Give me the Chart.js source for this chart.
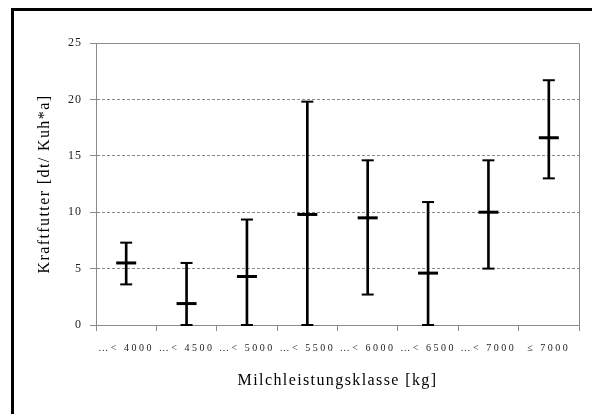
<!DOCTYPE html>
<html>
<head>
<meta charset="utf-8">
<script src="https://cdn.jsdelivr.net/npm/chart.js@4/dist/chart.umd.min.js"></script>
<style>
  html, body { margin: 0; padding: 0; background: #ffffff; overflow: hidden; }
  #frame {
    position: absolute; left: 11px; top: 8px;
    width: 700px; height: 600px;
    border: 3px solid #000000;
  }
  #wrap { position: absolute; left: 0; top: 0; width: 592px; height: 414px; }
</style>
</head>
<body>
<div id="frame"></div>
<div id="wrap"><canvas id="errChart"></canvas></div>
<script>
// Milchleistungsklassen und Kraftfutter (Mittelwert, Min, Max)
const categories = ["…< 4000", "…< 4500", "…< 5000", "…< 5500", "…< 6000", "…< 6500", "…< 7000", "≤ 7000"];
const meanValues = [5.5, 1.9, 4.3, 9.8, 9.5, 4.6, 10.0, 16.6];
const minValues = [3.6, 0, 0, 0, 2.7, 0, 5.0, 13.0];
const maxValues = [7.3, 5.5, 9.35, 19.8, 14.6, 10.9, 14.6, 21.7];
const yTicks = [0, 5, 10, 15, 20, 25];

const axisGray = "#8a8a8a";
const textColor = "#222222";

// Spannweite als schwebender Balken [min, max]
const rangeData = minValues.map((v, i) => [v, maxValues[i]]);

// Buchstabenabstand pro Achse setzen
function setSpacing(scale, tickSp, titleSp) {
  if (!scale || scale._spaced) return;
  scale._spaced = true;
  const drawLabels = scale.drawLabels;
  const drawTitle = scale.drawTitle;
  scale.drawLabels = function (area) {
    this.ctx.letterSpacing = tickSp;
    drawLabels.call(this, area);
    this.ctx.letterSpacing = "0px";
  };
  scale.drawTitle = function () {
    this.ctx.letterSpacing = titleSp;
    drawTitle.call(this);
    this.ctx.letterSpacing = "0px";
  };
}

const spacingPlugin = {
  id: "spacing",
  afterLayout(chart) {
    setSpacing(chart.scales.x, "2.5px", "1.4px");
    setSpacing(chart.scales.y, "1px", "1.4px");
  }
};

// grauer Rahmen um die Zeichenfläche
const plotFrame = {
  id: "plotFrame",
  beforeDatasetsDraw(chart) {
    const { ctx, chartArea } = chart;
    ctx.save();
    ctx.strokeStyle = axisGray;
    ctx.lineWidth = 1;
    ctx.beginPath();
    ctx.moveTo(chartArea.left, chartArea.top + 0.5);
    ctx.lineTo(chartArea.right + 0.5, chartArea.top + 0.5);
    ctx.lineTo(chartArea.right + 0.5, chartArea.bottom);
    ctx.stroke();
    ctx.restore();
  }
};

const ctx = document.getElementById("errChart").getContext("2d");

new Chart(ctx, {
  type: "bar",
  data: {
    labels: categories,
    datasets: [
      {
        label: "Mittelwert",
        type: "line",
        data: meanValues,
        showLine: false,
        pointStyle: "line",
        pointRadius: 10,
        pointBorderWidth: 3,
        pointBorderColor: "#000000",
        clip: false
      },
      {
        label: "Max",
        type: "line",
        data: maxValues,
        showLine: false,
        pointStyle: "line",
        pointRadius: 6,
        pointBorderWidth: 2,
        pointBorderColor: "#000000",
        clip: false
      },
      {
        label: "Min",
        type: "line",
        data: minValues,
        showLine: false,
        pointStyle: "line",
        pointRadius: 6,
        pointBorderWidth: 2,
        pointBorderColor: "#000000",
        clip: false
      },
      {
        label: "Spannweite",
        data: rangeData,
        barThickness: 2,
        backgroundColor: "#000000",
        borderWidth: 0
      }
    ]
  },
  options: {
    responsive: true,
    maintainAspectRatio: false,
    animation: false,
    layout: {
      padding: { top: 43, right: 8, left: 0, bottom: 0 }
    },
    plugins: {
      legend: { display: false },
      tooltip: { enabled: false }
    },
    scales: {
      x: {
        afterFit: (s) => { s.height = 89; },
        grid: {
          offset: true,
          drawOnChartArea: false,
          drawTicks: true,
          tickLength: 6,
          tickColor: axisGray
        },
        border: { display: true, color: axisGray, width: 1 },
        ticks: {
          color: textColor,
          padding: 11,
          maxRotation: 0,
          autoSkip: false,
          font: { family: "'Liberation Serif'", size: 10 }
        },
        title: {
          display: true,
          text: "Milchleistungsklasse [kg]",
          color: "#000000",
          padding: { top: 0, bottom: 24 },
          font: { family: "'Liberation Serif'", size: 16 }
        }
      },
      y: {
        min: 0,
        max: 25,
        afterFit: (s) => { s.width = 96; },
        afterBuildTicks: (s) => { s.ticks = yTicks.map((v) => ({ value: v })); },
        grid: {
          color: axisGray,
          lineWidth: 1,
          drawTicks: true,
          tickLength: 6,
          tickColor: axisGray,
          tickBorderDash: []
        },
        border: { display: true, color: axisGray, width: 1, dash: [3, 2] },
        ticks: {
          color: textColor,
          padding: 8,
          font: { family: "'Liberation Serif'", size: 12 }
        },
        title: {
          display: true,
          text: "Kraftfutter [dt/ Kuh*a]",
          color: "#000000",
          padding: { top: 35, bottom: 0 },
          font: { family: "'Liberation Serif'", size: 16 }
        }
      }
    }
  },
  plugins: [spacingPlugin, plotFrame]
});
</script>
</body>
</html>
